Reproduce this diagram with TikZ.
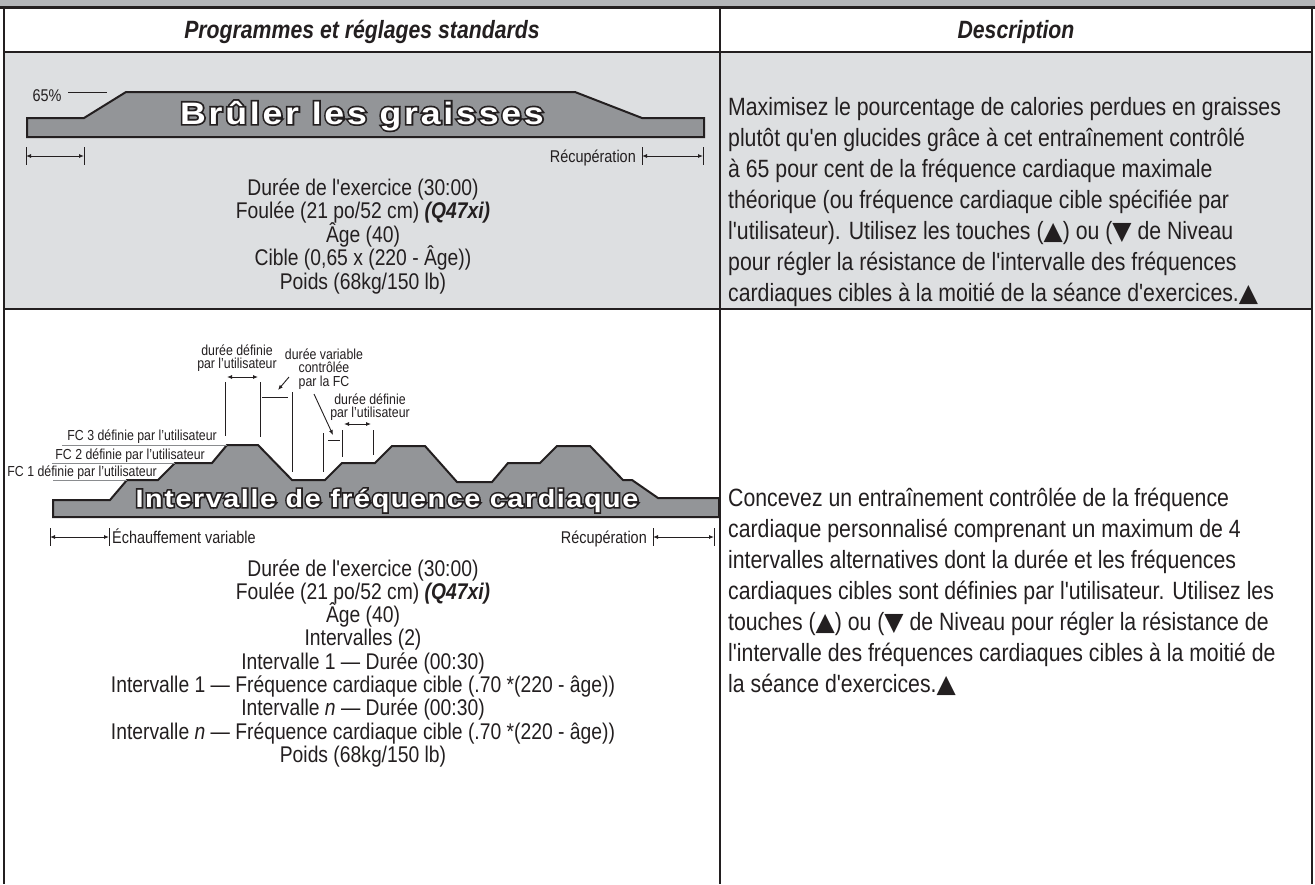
\documentclass[tikz,border=0pt]{standalone}
\usepackage{fontspec}
\setmainfont{Liberation Sans}[FakeStretch=0.85,Ligatures=TeXOff]
\newfontfamily\ttlA{Liberation Sans Bold}[FakeStretch=1.15,LetterSpace=9,Ligatures=TeXOff]
\newfontfamily\ttlAo{Liberation Sans Bold}[FakeStretch=1.15,LetterSpace=9,Ligatures=TeXOff,FakeBold=11]
\newfontfamily\ttlB{Liberation Sans Bold}[FakeStretch=1.15,LetterSpace=6.3,Ligatures=TeXOff]
\newfontfamily\ttlBo{Liberation Sans Bold}[FakeStretch=1.15,LetterSpace=6.3,Ligatures=TeXOff,FakeBold=13]
\newfontfamily\symfont{DejaVu Sans}
\usetikzlibrary{arrows.meta,calc}
\definecolor{ink}{HTML}{231F20}
\definecolor{bandgray}{HTML}{B3B5B8}
\definecolor{rowgray}{HTML}{DDDFE1}
\definecolor{shapegray}{HTML}{939598}
\definecolor{linegray}{HTML}{8A8C8F}
\newcommand{\up}{{\symfont\char"25B2}}
\newcommand{\dn}{{\symfont\char"25BC}}
\tikzset{
  border/.style={draw=ink, line width=2.5pt},
  body/.style={font=\fontsize{22.7}{26}\selectfont, text=ink, inner sep=0pt, anchor=base},
  desc/.style={font=\fontsize{25}{30}\selectfont, text=ink, inner sep=0pt, anchor=base west},
  head/.style={font=\fontsize{25}{30}\selectfont\bfseries\itshape, text=ink, inner sep=0pt, anchor=base},
  lbl/.style={font=\fontsize{17}{20}\selectfont, text=ink, inner sep=0pt, anchor=base},
  tiny/.style={font=\fontsize{14.5}{13.5}\selectfont, text=ink, inner sep=0pt, align=center},
  profile/.style={draw=ink, fill=shapegray, line width=2pt, line join=miter},
  dim/.style={draw=ink, line width=0.9pt, {Latex[length=5pt,width=4pt]}-{Latex[length=5pt,width=4pt]}},
  onehead/.style={draw=ink, line width=0.9pt, -{Latex[length=5pt,width=4pt]}},
  tick/.style={draw=ink, line width=0.9pt},
  guide/.style={draw=linegray, line width=1pt},
  ttlshadow/.style={text=ink, draw=none, inner sep=0pt, anchor=base},
  ttlfront/.style={text=white, inner sep=0pt, anchor=base},
}
\begin{document}
\begin{tikzpicture}[x=1pt,y=-1pt]
\useasboundingbox (0,0) rectangle (1315,884);
\fill[white] (0,0) rectangle (1315,884);
% bands
\fill[bandgray] (0,0) rectangle (1315,7.5);
\fill[rowgray] (4,52) rectangle (1312,309);
% table lines
\draw[border] (0,7.5) -- (1315,7.5);
\draw[border] (4,52) -- (1312,52);
\draw[border] (4,309) -- (1312,309);
\draw[border] (4,7.5) -- (4,884);
\draw[border] (720,7.5) -- (720,884);
\draw[border] (1312,7.5) -- (1312,884);
% headers
\node[head] (h1) at (362,38) {Programmes et réglages standards};
\node[head] (h2) at (1016,38) {Description};

% ---------- row 1 graph ----------
\coordinate (r1a) at (27,137);
\coordinate (r1b) at (704,137);
\draw[profile] (r1a) -- (27,118) -- (84,118) -- (126,92) -- (575,92) -- (642,118) -- (704,118) -- (r1b) -- cycle;
\node[lbl, anchor=base] (p65) at (47,101) {65\%};
\coordinate (l65a) at (68,92);
\coordinate (l65b) at (107,92);
\draw[tick, line width=0.7pt] (l65a) -- (l65b);
\begin{scope}[color=ink]
\node[ttlshadow, font=\ttlAo\fontsize{31}{31}\selectfont] (t1s) at (362,124) {Brûler les graisses};
\end{scope}
\node[ttlfront, font=\ttlA\fontsize{31}{31}\selectfont] (t1) at (362,124) {Brûler les graisses};
% row 1 dims
\coordinate (d1a) at (26,156); \coordinate (d1b) at (84,156);
\coordinate (d1c) at (642,156); \coordinate (d1d) at (703,156);
\draw[tick] ($(d1a)+(0,-9)$) -- ($(d1a)+(0,9)$);
\draw[tick] ($(d1b)+(0,-9)$) -- ($(d1b)+(0,9)$);
\draw[tick] ($(d1c)+(0,-9)$) -- ($(d1c)+(0,9)$);
\draw[tick] ($(d1d)+(0,-9)$) -- ($(d1d)+(0,9)$);
\draw[dim] (d1a) -- (d1b);
\draw[dim] (d1c) -- (d1d);
\node[lbl, anchor=base east] (rec1) at (636,162) {Récupération};
% row 1 settings
\node[body] (s11) at (363,195) {Durée de l'exercice (30:00)};
\node[body] (s12) at (363,218.6) {Foulée (21 po/52 cm) \textbf{\textit{(Q47xi)}}};
\node[body] (s13) at (363,242.2) {Âge (40)};
\node[body] (s14) at (363,265.8) {Cible (0,65 x (220 - Âge))};
\node[body] (s15) at (363,289.4) {Poids (68kg/150 lb)};
% row 1 description
\node[desc] (a1) at (728,115) {Maximisez le pourcentage de calories perdues en graisses};
\node[desc] (a2) at (728,146) {plutôt qu'en glucides grâce à cet entraînement contrôlé};
\node[desc] (a3) at (728,177) {à 65 pour cent de la fréquence cardiaque maximale};
\node[desc] (a4) at (728,208) {théorique (ou fréquence cardiaque cible spécifiée par};
\node[desc] (a5) at (728,239) {l'utilisateur). Utilisez les touches (\up) ou (\dn\ de Niveau};
\node[desc] (a6) at (728,270) {pour régler la résistance de l'intervalle des fréquences};
\node[desc] (a7) at (728,301) {cardiaques cibles à la moitié de la séance d'exercices.\up};

% ---------- row 2 graph ----------
\draw[profile] (53,517) -- (53,500) -- (110,500) -- (127,480) -- (158,480) -- (175,463) -- (212,463) -- (227,445) -- (258,445) -- (292,480) -- (325,480) -- (342,463) -- (375,463) -- (392,446) -- (425,446) -- (457,482) -- (492,482) -- (508,463) -- (540,463) -- (557,446) -- (590,446) -- (623,480) -- (632,480) -- (658,498) -- (719,498) -- (719,517) -- cycle;
% FC labels
\node[tiny, anchor=base east] (fc3) at (217,440) {FC 3 définie par l’utilisateur};
\node[tiny, anchor=base east] (fc2) at (205,459) {FC 2 définie par l’utilisateur};
\node[tiny, anchor=base east] (fc1) at (157,476) {FC 1 définie par l’utilisateur};
\coordinate (u3a) at (62,445); \coordinate (u3b) at (227,445);
\coordinate (u2a) at (52,463); \coordinate (u2b) at (175,463);
\coordinate (u1a) at (53,480); \coordinate (u1b) at (127,480);
\draw[guide] (u3a) -- (u3b);
\draw[guide] (u2a) -- (u2b);
\draw[guide] (u1a) -- (u1b);
% annotations
\node[tiny] (an1) at (237,358) {durée définie\\par l’utilisateur};
\node[tiny] (an2) at (324,369) {durée variable\\contrôlée\\par la FC};
\node[tiny] (an3) at (370,407) {durée définie\\par l’utilisateur};
\coordinate (v1a) at (225,382); \coordinate (v1b) at (225,436);
\coordinate (v2a) at (260,382); \coordinate (v2b) at (260,437);
\coordinate (v3a) at (292,392); \coordinate (v3b) at (292,472);
\coordinate (v4a) at (323,433); \coordinate (v4b) at (323,472);
\coordinate (v5a) at (342,430); \coordinate (v5b) at (342,457);
\coordinate (v6a) at (373,430); \coordinate (v6b) at (373,455);
\draw[tick] (v1a) -- (v1b);
\draw[tick] (v2a) -- (v2b);
\draw[tick] (v3a) -- (v3b);
\draw[tick] (v4a) -- (v4b);
\draw[tick] (v5a) -- (v5b);
\draw[tick] (v6a) -- (v6b);
\coordinate (hz1a) at (262,397); \coordinate (hz1b) at (288,397);
\draw[tick] (hz1a) -- (hz1b);
\coordinate (hz2a) at (328,440); \coordinate (hz2b) at (340,440);
\draw[tick] (hz2a) -- (hz2b);
\draw[dim] (227,377) -- (258,377);
\draw[dim] (344,424) -- (371,424);
\coordinate (ar1a) at (289,377); \coordinate (ar1b) at (278,390);
\draw[onehead] (ar1a) -- (ar1b);
\coordinate (ar2a) at (314,394); \coordinate (ar2b) at (333,435);
\draw[onehead] (ar2a) -- (ar2b);
\begin{scope}[color=ink]
\node[ttlshadow, font=\ttlBo\fontsize{25}{25}\selectfont] (t2s) at (387,507) {Intervalle de fréquence cardiaque};
\end{scope}
\node[ttlfront, font=\ttlB\fontsize{25}{25}\selectfont] (t2) at (387,507) {Intervalle de fréquence cardiaque};
% row 2 dims
\coordinate (d2a) at (50,537); \coordinate (d2b) at (109,537);
\coordinate (d2c) at (653,537); \coordinate (d2d) at (714,537);
\draw[tick] ($(d2a)+(0,-9)$) -- ($(d2a)+(0,9)$);
\draw[tick] ($(d2b)+(0,-9)$) -- ($(d2b)+(0,9)$);
\draw[tick] ($(d2c)+(0,-9)$) -- ($(d2c)+(0,9)$);
\draw[tick] ($(d2d)+(0,-9)$) -- ($(d2d)+(0,9)$);
\draw[dim] (d2a) -- (d2b);
\draw[dim] (d2c) -- (d2d);
\node[lbl, anchor=base west] (ech) at (112,543) {Échauffement variable};
\node[lbl, anchor=base east] (rec2) at (647,543) {Récupération};
% row 2 settings
\node[body] (s21) at (363,576) {Durée de l'exercice (30:00)};
\node[body] (s22) at (363,599.3) {Foulée (21 po/52 cm) \textbf{\textit{(Q47xi)}}};
\node[body] (s23) at (363,622.6) {Âge (40)};
\node[body] (s24) at (363,645.9) {Intervalles (2)};
\node[body] (s25) at (363,669.2) {Intervalle 1 — Durée (00:30)};
\node[body] (s26) at (363,692.5) {Intervalle 1 — Fréquence cardiaque cible (.70 *(220 - âge))};
\node[body] (s27) at (363,715.8) {Intervalle \textit{n} — Durée (00:30)};
\node[body] (s28) at (363,739.1) {Intervalle \textit{n} — Fréquence cardiaque cible (.70 *(220 - âge))};
\node[body] (s29) at (363,762.4) {Poids (68kg/150 lb)};
% row 2 description
\node[desc] (b1) at (728,506) {Concevez un entraînement contrôlée de la fréquence};
\node[desc] (b2) at (728,537) {cardiaque personnalisé comprenant un maximum de 4};
\node[desc] (b3) at (728,568) {intervalles alternatives dont la durée et les fréquences};
\node[desc] (b4) at (728,599) {cardiaques cibles sont définies par l'utilisateur. Utilisez les};
\node[desc] (b5) at (728,630) {touches (\up) ou (\dn\ de Niveau pour régler la résistance de};
\node[desc] (b6) at (728,661) {l'intervalle des fréquences cardiaques cibles à la moitié de};
\node[desc] (b7) at (728,692) {la séance d'exercices.\up};
\end{tikzpicture}
\end{document}
